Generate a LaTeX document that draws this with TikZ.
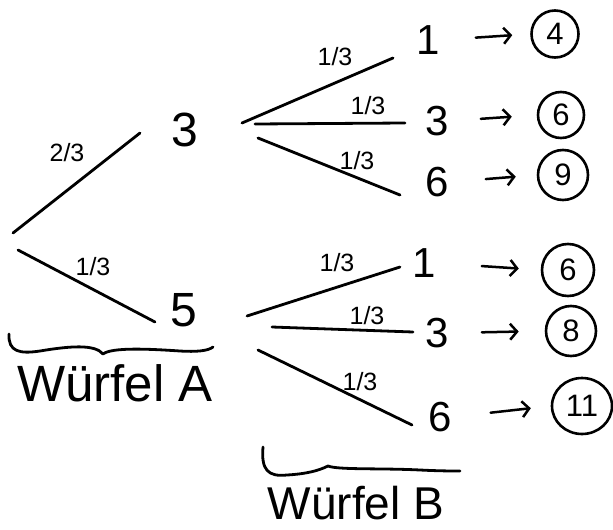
\documentclass[tikz,border=0pt]{standalone}
\usepackage{fontspec}
\setmainfont{Liberation Sans}
\usetikzlibrary{calc,arrows.meta,shapes.geometric}
\begin{document}
\begin{tikzpicture}[x=1pt,y=-1pt,
  edge/.style={line width=2.8pt,line cap=round},
  num/.style={font=\fontsize{42}{42}\selectfont,inner sep=0pt},
  bignum/.style={font=\fontsize{48}{48}\selectfont,inner sep=0pt},
  prob/.style={font=\fontsize{25}{25}\selectfont,inner sep=0pt},
  res/.style={draw,circle,line width=2.6pt,minimum size=#1,inner sep=0pt,font=\fontsize{31}{31}\selectfont},
  arr/.style={line width=2.5pt,line cap=round,-{Straight Barb[length=7pt,width=16pt]}},
  brc/.style={line width=2.8pt,line cap=round,line join=round},
  lbl/.style={font=\fontsize{51}{51}\selectfont,inner sep=0pt,anchor=base}]
\useasboundingbox (0,0) rectangle (613,530);
% stage A
\coordinate (r1) at (13,233);
\coordinate (r2) at (18,250);
\node[bignum] (a3) at (185,130) {3};
\node[bignum] (a5) at (184,310) {5};
\coordinate (a3e) at (140,133);
\coordinate (a5e) at (155,322);
\draw[edge] (r1) -- (a3e);
\draw[edge] (r2) -- (a5e);
\node[prob] (pa) at (67,153) {2/3};
\node[prob] (pb) at (93,267) {1/3};
% stage B from 3
\coordinate (s1) at (242,123);
\coordinate (s2) at (255,124);
\coordinate (s3) at (258,138);
\node[num] (b1) at (428,40) {1};
\node[num] (b3) at (437,121) {3};
\node[num] (b6) at (437,182) {6};
\coordinate (b1e) at (393,58);
\coordinate (b3e) at (405,123);
\coordinate (b6e) at (400,195);
\draw[edge] (s1) -- (b1e);
\draw[edge] (s2) -- (b3e);
\draw[edge] (s3) -- (b6e);
\node[prob] (p1) at (335,57) {1/3};
\node[prob] (p2) at (368,106) {1/3};
\node[prob] (p3) at (357,161) {1/3};
\node[res=47pt] (c4) at (555,34) {4};
\node[res=46pt] (c6) at (561,115) {6};
\node[res=50pt] (c9) at (563,175) {9};
\draw[arr,shorten <=36pt,shorten >=18pt] (b1.east) -- (c4.west);
\draw[arr,shorten <=32pt,shorten >=25pt] (b3.east) -- (c6.west);
\draw[arr,shorten <=37pt,shorten >=21pt] (b6.east) -- (c9.west);
% stage B from 5
\coordinate (t1) at (247,316);
\coordinate (t2) at (272,327);
\coordinate (t3) at (258,350);
\node[num] (d1) at (424,263) {1};
\node[num] (d3) at (437,333) {3};
\node[num] (d6) at (440,417) {6};
\coordinate (d1e) at (400,267);
\coordinate (d3e) at (413,332);
\coordinate (d6e) at (412,425);
\draw[edge] (t1) -- (d1e);
\draw[edge] (t2) -- (d3e);
\draw[edge] (t3) -- (d6e);
\node[prob] (p4) at (337,263) {1/3};
\node[prob] (p5) at (367,316) {1/3};
\node[prob] (p6) at (360,382) {1/3};
\node[res=52pt] (e6) at (568,270) {6};
\node[res=50pt] (e8) at (571,331) {8};
\node[draw,ellipse,line width=2.6pt,minimum width=60pt,minimum height=56pt,inner sep=0pt,font=\fontsize{31}{31}\selectfont] (e11) at (582,406) {11};
\draw[arr,shorten <=46pt,shorten >=22pt] (d1.east) -- (e6.west);
\draw[arr,shorten <=33pt,shorten >=26pt] (d3.east) -- (e8.west);
\draw[arr,shorten <=39pt,shorten >=20pt] (d6.east) -- (e11.west);
% braces (hand-drawn style)
\coordinate (ba1) at (9,334);
\coordinate (bam) at (103,354);
\coordinate (ba2) at (213,347);
\draw[brc] (ba1) .. controls (8,352) and (20,354) .. (40,351)
  .. controls (70,346) and (95,344) .. (bam)
  .. controls (112,347) and (150,349) .. (180,351)
  .. controls (196,352) and (208,351) .. (ba2);
\node[lbl] (wa) at (115,401) {Würfel A};
\coordinate (bb1) at (263,447);
\coordinate (bbm) at (328,466);
\coordinate (bb2) at (460,471);
\draw[brc] (bb1) .. controls (261,470) and (268,477) .. (287,475)
  .. controls (305,474) and (318,471) .. (bbm)
  .. controls (338,470) and (380,468) .. (420,470)
  .. controls (440,471) and (452,471) .. (bb2);
\node[lbl,font=\fontsize{46}{46}\selectfont] (wb) at (356,519) {Würfel B};
\end{tikzpicture}
\end{document}
